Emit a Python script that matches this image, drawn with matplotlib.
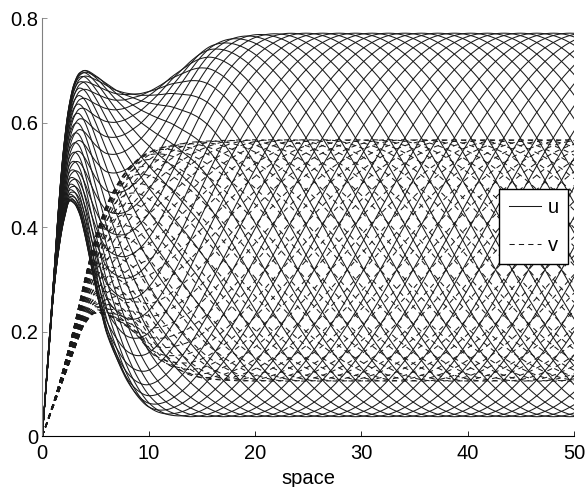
import numpy as np
import matplotlib
matplotlib.use("Agg")
import matplotlib.pyplot as plt
from matplotlib.lines import Line2D

# ---- data ----
# envelopes (upper / lower) of the u family
u_upper_x = [0, 0.5, 1.0, 1.5, 2.0, 2.5, 3.0, 3.5, 4.0, 5.0, 6.0, 7.0, 8.0, 9.0,
             10, 11, 12, 13, 14, 15, 16, 18, 20, 22, 24, 30, 50]
u_upper_y = [0, 0.14, 0.28, 0.43, 0.55, 0.63, 0.675, 0.695, 0.70, 0.69, 0.675,
             0.662, 0.656, 0.655, 0.66, 0.67, 0.685, 0.70, 0.718, 0.735, 0.748,
             0.762, 0.768, 0.770, 0.771, 0.771, 0.771]
u_lower_x = [0, 0.5, 1.0, 1.5, 2.0, 2.6, 3.0, 3.5, 4.0, 4.5, 5.0, 5.5, 6.0, 6.5,
             7.0, 7.5, 8.0, 9.0, 10, 11, 12, 14, 50]
u_lower_y = [0, 0.13, 0.26, 0.35, 0.41, 0.45, 0.445, 0.425, 0.385, 0.335, 0.285,
             0.24, 0.20, 0.172, 0.148, 0.125, 0.105, 0.075, 0.055, 0.045, 0.040,
             0.037, 0.037]
# envelopes of the v family
v_upper_x = [0, 1, 2, 3, 4, 5, 6, 7, 8, 9, 10, 12, 15, 20, 50]
v_upper_y = [0, 0.06, 0.13, 0.21, 0.30, 0.38, 0.44, 0.48, 0.51, 0.53, 0.543,
             0.556, 0.564, 0.567, 0.567]
v_lower_x = [0, 1, 2, 3, 4, 5, 6, 7, 8.7, 10.3, 11.5, 12.9, 14, 16, 20, 50]
v_lower_y = [0, 0.055, 0.11, 0.165, 0.215, 0.235, 0.232, 0.222, 0.197, 0.158,
             0.14, 0.126, 0.116, 0.108, 0.105, 0.105]

wavelength = 62.0          # spatial period of the wave train
v_phase_lag = 0.25         # v lag relative to u (fraction of a period)
snapshot_phase = [0.000, 0.025, 0.050, 0.075, 0.100, 0.125, 0.150, 0.175,
                  0.200, 0.225, 0.250, 0.275, 0.300, 0.325, 0.350, 0.375,
                  0.400, 0.425, 0.450, 0.475, 0.500, 0.525, 0.550, 0.575,
                  0.600, 0.625, 0.650, 0.675, 0.700, 0.725, 0.750, 0.775,
                  0.800, 0.825, 0.850, 0.875, 0.900, 0.925, 0.950, 0.975]

xticks = [0, 10, 20, 30, 40, 50]
yticks = [0, 0.2, 0.4, 0.6, 0.8]
ytick_labels = ["0", "0.2", "0.4", "0.6", "0.8"]


def pchip(xk, yk, x):
    xk = np.asarray(xk, float)
    yk = np.asarray(yk, float)
    h = np.diff(xk)
    d = np.diff(yk) / h
    m = np.zeros_like(yk)
    for i in range(1, len(xk) - 1):
        if d[i - 1] * d[i] > 0:
            w1 = 2 * h[i] + h[i - 1]
            w2 = h[i] + 2 * h[i - 1]
            m[i] = (w1 + w2) / (w1 / d[i - 1] + w2 / d[i])
    m[0] = d[0]
    m[-1] = d[-1]
    idx = np.clip(np.searchsorted(xk, x) - 1, 0, len(xk) - 2)
    t = (x - xk[idx]) / h[idx]
    h00 = 2 * t**3 - 3 * t**2 + 1
    h10 = t**3 - 2 * t**2 + t
    h01 = -2 * t**3 + 3 * t**2
    h11 = t**3 - t**2
    return (h00 * yk[idx] + h10 * h[idx] * m[idx] + h01 * yk[idx + 1]
            + h11 * h[idx] * m[idx + 1])


x = np.linspace(0, 50, 1501)
Uu = pchip(u_upper_x, u_upper_y, x)
Ul = pchip(u_lower_x, u_lower_y, x)
Vu = pchip(v_upper_x, v_upper_y, x)
Vl = pchip(v_lower_x, v_lower_y, x)
Mu, Au = (Uu + Ul) / 2, (Uu - Ul) / 2
Mv, Av = (Vu + Vl) / 2, (Vu - Vl) / 2

plt.rcParams["font.family"] = ["Liberation Sans", "DejaVu Sans"]
fig = plt.figure(figsize=(5.85, 4.87), dpi=100)
ax = fig.add_axes([0.0723, 0.1047, 0.9089, 0.8583])

lc = "#1a1a1a"
lw = 0.75
fs = 14.5
for th in snapshot_phase:
    ph = 2 * np.pi * (x / wavelength - th)
    u = Mu + Au * np.cos(ph)
    v = Mv + Av * np.cos(ph - 2 * np.pi * v_phase_lag)
    ax.plot(x, u, color=lc, lw=lw, ls="-")
    ax.plot(x, v, color=lc, lw=lw, ls=(0, (5, 4)))

ax.set_xlim(0, 50)
ax.set_ylim(0, 0.8)
ax.set_xticks(xticks)
ax.set_yticks(yticks)
ax.set_yticklabels(ytick_labels)
ax.spines["top"].set_visible(False)
ax.spines["right"].set_visible(False)
ax.spines["left"].set_color("#808080")
ax.spines["left"].set_linewidth(0.8)
ax.spines["bottom"].set_linewidth(0.8)
ax.tick_params(direction="in", length=3.6, width=0.6, labelsize=fs)
ax.tick_params(axis="x", pad=6)
ax.tick_params(axis="y", pad=3, color="#808080")
ax.set_xlabel("space", fontsize=fs, labelpad=4)

handles = [Line2D([], [], color=lc, lw=lw, ls="-"),
           Line2D([], [], color=lc, lw=lw, ls=(0, (5, 4)))]
leg = ax.legend(handles, ["u", "v"], loc="upper right",
                bbox_to_anchor=(0.9887, 0.591), borderaxespad=0,
                fontsize=fs, fancybox=False, framealpha=1, edgecolor="black",
                handlelength=1.6, handletextpad=0.35, labelspacing=0.95,
                borderpad=0.45)
leg.get_frame().set_linewidth(1.0)

fig.savefig("out.png", dpi=100)
